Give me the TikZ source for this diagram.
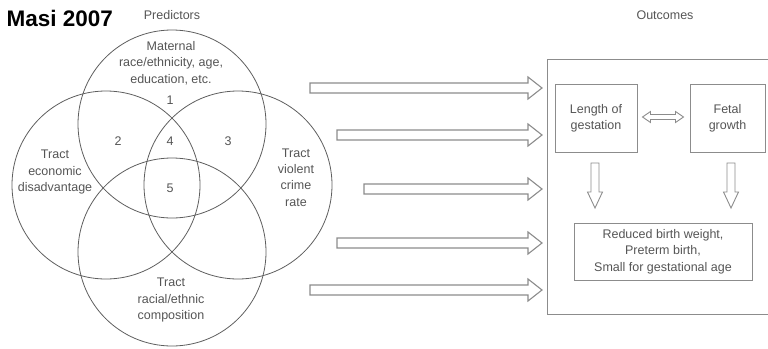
\documentclass[tikz,border=0pt]{standalone}
\usepackage{fontspec}
\setmainfont{Liberation Sans}
\usetikzlibrary{positioning,calc}

\definecolor{circgray}{HTML}{5E5E5E}
\definecolor{boxgray}{HTML}{8C8C8C}
\definecolor{txtgray}{HTML}{555555}

\begin{document}
\begin{tikzpicture}[x=1pt,y=-1pt,
	lbl/.style={text=txtgray,align=center,font=\fontsize{12.5}{16.3}\selectfont,inner sep=0pt},
	venn/.style={draw=circgray,line width=0.8pt},
	outcome/.style={draw=boxgray,line width=1pt,rectangle,lbl},
	blockarr/.style={draw=boxgray,line width=1.1pt,fill=white,line join=miter}]
	\useasboundingbox (0,0) rectangle (768,348);

	\node[anchor=base west,font=\fontsize{22.5}{24}\bfseries\selectfont] (title) at (3,27) {Masi 2007};
	\node[lbl] (pred) at (172,15) {Predictors};
	\node[lbl] (outc) at (665,15) {Outcomes};

	% four overlapping circles
	\draw[venn] (172,124) circle[radius=94pt];
	\draw[venn] (106,185) circle[radius=94pt];
	\draw[venn] (238,185) circle[radius=94pt];
	\draw[venn] (172,252) circle[radius=94pt];

	\node[lbl] (maternal) at (171,63) {Maternal\\race/ethnicity, age,\\education, etc.};
	\node[lbl] (econ) at (55,172) {Tract\\economic\\disadvantage};
	\node[lbl] (crime) at (296,177.5) {Tract\\violent\\crime\\rate};
	\node[lbl] (racial) at (171,300) {Tract\\racial/ethnic\\composition};
	\node[lbl] (one) at (170,100) {1};
	\node[lbl] (two) at (118,141) {2};
	\node[lbl] (four) at (170,141) {4};
	\node[lbl] (three) at (228,141) {3};
	\node[lbl] (five) at (170,188) {5};

	% outcome side
	\node[draw=boxgray,line width=1pt,minimum width=230pt,minimum height=255pt,anchor=north west] (outbox) at (547,59) {};
	\node[outcome,minimum width=82pt,minimum height=68pt] (lenbox) at (596,118) {Length of\\gestation};
	\node[outcome,minimum width=75pt,minimum height=68pt] (fetbox) at (727.5,118) {Fetal\\growth};
	\node[outcome,minimum width=178pt,minimum height=57pt] (resbox) at (663,251.5) {Reduced birth weight,\\Preterm birth,\\Small for gestational age};

	\foreach \tx/\ty [count=\i] in {310/88,337/135,364/189,337/243,310/290} {
		\coordinate (tail\i) at (\tx,\ty);
		\coordinate (tip\i) at ($(outbox.west |- tail\i)+(-5,0)$);
		\draw[blockarr] let \p1=(tail\i), \p2=(tip\i) in
			(\x1,\y1+5pt) -- (\x2-14pt,\y1+5pt) -- (\x2-14pt,\y1+11pt) -- (\x2,\y1)
			-- (\x2-14pt,\y1-11pt) -- (\x2-14pt,\y1-5pt) -- (\x1,\y1-5pt) -- cycle;
	}

	\coordinate (dl) at ($(lenbox.east)+(5,-1)$);
	\coordinate (dr) at ($(fetbox.west)+(-6,-1)$);
	\draw[blockarr,line width=0.9pt] let \p1=(dl), \p2=(dr) in
		(\x1,\y1) -- (\x1+8pt,\y1+5.5pt) -- (\x1+8pt,\y1+2.5pt) -- (\x2-8pt,\y1+2.5pt) -- (\x2-8pt,\y1+5.5pt)
		-- (\x2,\y1) -- (\x2-8pt,\y1-5.5pt) -- (\x2-8pt,\y1-2.5pt) -- (\x1+8pt,\y1-2.5pt) -- (\x1+8pt,\y1-5.5pt) -- cycle;

	\foreach \nm/\dx in {lenbox/595,fetbox/731} {
		\coordinate (\nm top) at (\dx,163);
		\coordinate (\nm bot) at (\dx,208);
		\draw[blockarr,line width=0.9pt] let \p1=(\nm top), \p2=(\nm bot) in
			(\x1-4pt,\y1) -- (\x1-4pt,\y2+16pt) -- (\x1-7.5pt,\y2+16pt) -- (\x1,\y2)
			-- (\x1+7.5pt,\y2+16pt) -- (\x1+4pt,\y2+16pt) -- (\x1+4pt,\y1) -- cycle;
	}
\end{tikzpicture}
\end{document}
